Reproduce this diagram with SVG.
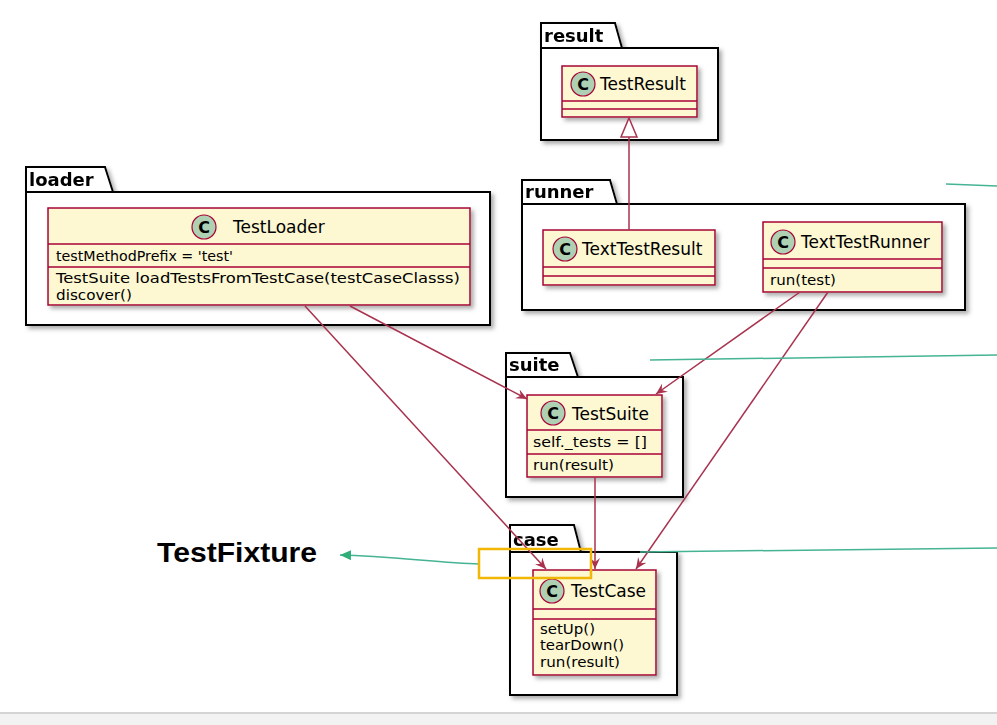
<svg xmlns="http://www.w3.org/2000/svg" width="997" height="725" viewBox="0 0 997 725">
<defs>
<style>
.pkg{fill:#fff;stroke:#000;stroke-width:2}
.pl{font-family:"DejaVu Sans",sans-serif;font-weight:bold;font-size:18px;fill:#000}
.cls{fill:#FDF7D2;stroke:#A80036;stroke-width:1.5}
.sep{stroke:#A80036;stroke-width:1.5}
.ci{fill:#ADD1B2;stroke:#A80036;stroke-width:1.2}
.cc{font-family:"DejaVu Sans",sans-serif;font-weight:bold;font-size:16px;fill:#000;text-anchor:middle}
.cn{font-family:"DejaVu Sans",sans-serif;font-size:17px;fill:#000}
.mb{font-family:"DejaVu Sans",sans-serif;font-size:13.5px;fill:#000}
.rel{fill:none;stroke:#A8324E;stroke-width:1.5}
.grn{fill:none;stroke:#45B394;stroke-width:1.5}
</style>
<filter id="sh" x="-10%" y="-10%" width="130%" height="130%">
<feDropShadow dx="3" dy="3" stdDeviation="2" flood-color="#777" flood-opacity="0.6"/>
</filter>
<marker id="arr" markerUnits="userSpaceOnUse" markerWidth="12" markerHeight="10" refX="11" refY="5" orient="auto">
<path d="M0,0 L11,5 L0,10 L4,5 Z" fill="#A8324E"/>
</marker>
<marker id="garr" markerUnits="userSpaceOnUse" markerWidth="12" markerHeight="10" refX="11" refY="5" orient="auto">
<path d="M0,0 L11,5 L0,10 Z" fill="#2FAE7A"/>
</marker>
</defs>
<rect x="0" y="0" width="997" height="725" fill="#fff"/>
<rect x="0" y="713" width="997" height="12" fill="#f2f2f2"/>
<line x1="0" y1="713" x2="997" y2="713" stroke="#d4d4d4" stroke-width="2"/>

<g id="pkg-result" filter="url(#sh)">
<path class="pkg" d="M541,48 V23 H615 L622,48"/>
<rect class="pkg" x="541" y="48" width="177" height="92"/>
<text class="pl" x="544" y="42">result</text>
</g>
<g id="pkg-loader" filter="url(#sh)">
<path class="pkg" d="M26,192 V167 H105 L113,192"/>
<rect class="pkg" x="26" y="192" width="464" height="133"/>
<text class="pl" x="29" y="186">loader</text>
</g>
<g id="pkg-runner" filter="url(#sh)">
<path class="pkg" d="M522,204 V180 H610 L617,204"/>
<rect class="pkg" x="522" y="204" width="443" height="106"/>
<text class="pl" x="525" y="198">runner</text>
</g>
<g id="pkg-suite" filter="url(#sh)">
<path class="pkg" d="M506,377 V353 H570 L578,377"/>
<rect class="pkg" x="506" y="377" width="177" height="120"/>
<text class="pl" x="509" y="371">suite</text>
</g>
<g id="pkg-case" filter="url(#sh)">
<path class="pkg" d="M510,552 V525 H574 L581,552"/>
<rect class="pkg" x="510" y="552" width="167" height="143"/>
<text class="pl" x="513" y="546">case</text>
</g>

<g id="TestResult">
<rect class="cls" x="562" y="66" width="135" height="51" filter="url(#sh)"/>
<line class="sep" x1="562" y1="101" x2="697" y2="101"/>
<line class="sep" x1="562" y1="109" x2="697" y2="109"/>
<circle class="ci" cx="583" cy="84" r="12"/>
<text class="cc" x="583" y="90">C</text>
<text class="cn" x="600" y="90">TestResult</text>
</g>

<g id="TestLoader">
<rect class="cls" x="48" y="208" width="422" height="97" filter="url(#sh)"/>
<line class="sep" x1="48" y1="244" x2="470" y2="244"/>
<line class="sep" x1="48" y1="267" x2="470" y2="267"/>
<circle class="ci" cx="204" cy="227" r="12"/>
<text class="cc" x="204" y="233">C</text>
<text class="cn" x="233" y="233">TestLoader</text>
<text class="mb" x="56" y="261" textLength="177" lengthAdjust="spacingAndGlyphs">testMethodPrefix = 'test'</text>
<text class="mb" x="56" y="283" textLength="404" lengthAdjust="spacingAndGlyphs">TestSuite loadTestsFromTestCase(testCaseClasss)</text>
<text class="mb" x="56" y="300" textLength="76" lengthAdjust="spacingAndGlyphs">discover()</text>
</g>

<g id="TextTestResult">
<rect class="cls" x="543" y="230" width="172" height="55" filter="url(#sh)"/>
<line class="sep" x1="543" y1="267" x2="715" y2="267"/>
<line class="sep" x1="543" y1="276" x2="715" y2="276"/>
<circle class="ci" cx="565" cy="249" r="12"/>
<text class="cc" x="565" y="255">C</text>
<text class="cn" x="582" y="255">TextTestResult</text>
</g>

<g id="TextTestRunner">
<rect class="cls" x="763" y="222" width="179" height="70" filter="url(#sh)"/>
<line class="sep" x1="763" y1="259" x2="942" y2="259"/>
<line class="sep" x1="763" y1="268" x2="942" y2="268"/>
<circle class="ci" cx="783" cy="242" r="12"/>
<text class="cc" x="783" y="248">C</text>
<text class="cn" x="801" y="248">TextTestRunner</text>
<text class="mb" x="770" y="285" textLength="66" lengthAdjust="spacingAndGlyphs">run(test)</text>
</g>

<g id="TestSuite">
<rect class="cls" x="527" y="395" width="135" height="82" filter="url(#sh)"/>
<line class="sep" x1="527" y1="430" x2="662" y2="430"/>
<line class="sep" x1="527" y1="454" x2="662" y2="454"/>
<circle class="ci" cx="553" cy="413" r="12"/>
<text class="cc" x="553" y="419">C</text>
<text class="cn" x="572" y="420">TestSuite</text>
<text class="mb" x="533" y="447" textLength="114" lengthAdjust="spacingAndGlyphs">self._tests = []</text>
<text class="mb" x="533" y="470" textLength="81" lengthAdjust="spacingAndGlyphs">run(result)</text>
</g>

<g id="TestCase">
<rect class="cls" x="533" y="570" width="123" height="105" filter="url(#sh)"/>
<line class="sep" x1="533" y1="609" x2="656" y2="609"/>
<line class="sep" x1="533" y1="619" x2="656" y2="619"/>
<circle class="ci" cx="552" cy="591" r="12"/>
<text class="cc" x="552" y="597">C</text>
<text class="cn" x="571" y="597">TestCase</text>
<text class="mb" x="540" y="634" textLength="55" lengthAdjust="spacingAndGlyphs">setUp()</text>
<text class="mb" x="540" y="650" textLength="84" lengthAdjust="spacingAndGlyphs">tearDown()</text>
<text class="mb" x="540" y="667" textLength="80" lengthAdjust="spacingAndGlyphs">run(result)</text>
</g>

<g id="connectors">
<line class="rel" x1="629" y1="137" x2="629" y2="230"/>
<path d="M629,118 L637,137 L621,137 Z" fill="#fff" stroke="#A8324E" stroke-width="1.5"/>
<line class="rel" x1="305" y1="306" x2="546" y2="569" marker-end="url(#arr)"/>
<line class="rel" x1="350" y1="306" x2="527" y2="399" marker-end="url(#arr)"/>
<line class="rel" x1="800" y1="292" x2="656" y2="394" marker-end="url(#arr)"/>
<line class="rel" x1="828" y1="292" x2="636" y2="569" marker-end="url(#arr)"/>
<line class="rel" x1="595" y1="477" x2="595" y2="569" marker-end="url(#arr)"/>
</g>

<g id="annotations">
<line class="grn" x1="946" y1="184" x2="997" y2="186"/>
<line class="grn" x1="650" y1="360" x2="997" y2="355"/>
<line class="grn" x1="640" y1="552" x2="997" y2="548"/>
<path class="grn" d="M479,564 C440,563 390,556 340,555" stroke="#2FAE7A" marker-end="url(#garr)"/>
<rect x="479" y="549" width="112" height="29" fill="none" stroke="#F2B705" stroke-width="2.5"/>
<text x="157" y="562" font-family="'Liberation Sans',Arial,sans-serif" font-weight="bold" font-size="28" textLength="160" lengthAdjust="spacingAndGlyphs" fill="#000">TestFixture</text>
</g>
</svg>
